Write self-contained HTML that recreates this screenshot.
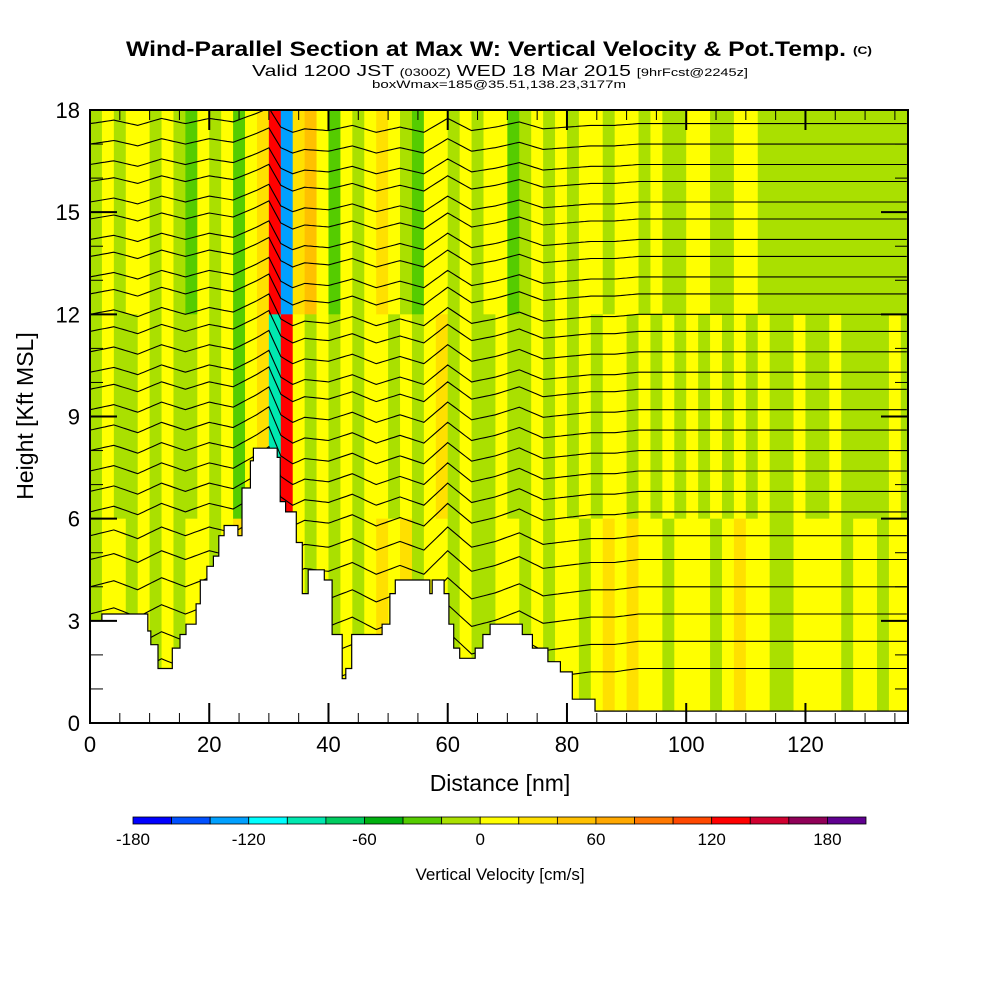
<!DOCTYPE html>
<html><head><meta charset="utf-8"><style>
body{margin:0;background:#fff;}
svg{display:block;font-family:"Liberation Sans",sans-serif;}
</style></head><body>
<svg id="chart" width="1000" height="1000" viewBox="0 0 1000 1000">
<text x="126" y="56" font-size="21" font-weight="bold" textLength="720" lengthAdjust="spacingAndGlyphs">Wind-Parallel Section at Max W: Vertical Velocity &amp; Pot.Temp.</text>
<text x="853" y="54" font-size="11" font-weight="bold" textLength="19" lengthAdjust="spacingAndGlyphs">(C)</text>
<text x="252" y="76" font-size="16" textLength="496" lengthAdjust="spacingAndGlyphs">Valid 1200 JST <tspan font-size="11">(0300Z)</tspan> WED 18 Mar 2015 <tspan font-size="11">[9hrFcst@2245z]</tspan></text>
<text x="372" y="88" font-size="11" textLength="254" lengthAdjust="spacingAndGlyphs">boxWmax=185@35.51,138.23,3177m</text>
<defs><clipPath id="plotclip"><rect x="90" y="110" width="818" height="613"/></clipPath></defs>
<g id="field" clip-path="url(#plotclip)"></g>
<g id="contours" clip-path="url(#plotclip)"></g>
<g id="terrain" clip-path="url(#plotclip)"></g>
<rect x="90" y="110" width="818" height="613" fill="none" stroke="#000" stroke-width="2"/>
<g id="axes"></g>
<text x="500" y="791" font-size="23" text-anchor="middle">Distance [nm]</text>
<text transform="translate(33,416) rotate(-90)" font-size="23" text-anchor="middle">Height [Kft MSL]</text>
<g id="colorbar"></g>
<text x="500" y="880" font-size="17" text-anchor="middle">Vertical Velocity [cm/s]</text>
</svg>
<script>
// data
const cbLevels=[-180,-160,-140,-120,-100,-80,-60,-40,-20,0,20,40,60,80,100,120,140,160,180,200];
const cbColors=["#0000ff","#0050ff","#00a0ff","#00ffff","#00e8b0","#00cc60","#00b010","#55cc00","#aae000","#ffff00","#ffe000","#ffc000","#ffa800","#ff7800","#ff4800","#ff0000","#d00030","#900058","#600090"];
const cbTicks=[-180,-120,-60,0,60,120,180];
const wDist=[0,2,4,6,8,10,12,14,16,18,20,22,24,26,28,30,32,34,36,38,40,42,44,46,48,50,52,54,56,58,60,62,64,66,68,70,72,74,76,78,80,82,84,86,88,90,92,94,96,98,100,102,104,106,108,110,112,114,116,118,120,122,124,126,128,130,132,134,136,138];
const wUpper=[-10,10,-10,10,10,-10,10,-10,-30,10,-10,10,-30,10,30,130,-130,30,50,10,-30,10,-10,10,30,10,-10,-30,10,10,-10,10,-10,10,10,-30,-10,10,-10,10,-10,10,10,-10,10,10,-10,10,-10,-10,10,10,-10,-10,10,10,-10,-10,-10,-10,-10,-10,-10,-10,-10,-10,-10,-10,-10,-10];
const wMid=[-10,10,-10,-10,10,-10,10,-10,-10,10,-10,10,-30,10,30,-90,130,10,-10,10,-10,10,-10,10,10,-10,10,-10,10,30,-10,10,-10,-10,10,-10,-10,10,-10,10,-10,10,-10,10,10,-10,10,-10,10,-10,10,-10,10,-10,10,-10,10,-10,-10,10,-10,-10,10,-10,-10,-10,-10,10,-10,-10];
const wLower=[-10,10,10,-10,10,-10,10,-10,10,10,-10,10,30,10,30,-50,50,10,-10,10,-10,10,-10,10,30,10,30,-10,10,10,-10,10,-10,-10,10,10,-10,10,-10,10,10,-10,10,30,10,30,10,10,-10,10,10,10,-10,10,30,10,10,-10,-10,10,10,10,10,-10,10,10,-10,10,10,10];
const terrDist=[0,2,8.4,9.7,10.2,11.4,13.8,15.1,16.1,17.8,18.5,19.6,20.7,21.6,22.5,24.8,25.5,26.9,27.4,30.9,31.4,31.9,32.8,34.6,35.6,36.6,38.6,39.3,40.6,42.3,42.9,43.9,45,49,50.3,51.2,52.2,52.8,57,57.4,59.4,60.2,61,62,64.6,65.9,67.1,68.6,72.5,74.2,76.8,78.9,80.9,84.7,137.2];
const terrH=[3.0,3.2,3.2,2.7,2.3,1.6,2.2,2.6,2.9,3.5,4.2,4.6,4.9,5.5,5.8,5.5,6.9,7.7,8.07,8.07,7.8,6.5,6.2,5.3,3.8,4.5,4.5,4.2,2.6,1.3,1.6,2.6,2.6,2.9,3.8,4.2,4.2,4.2,3.8,4.2,3.8,2.9,2.2,1.9,2.2,2.6,2.9,2.9,2.6,2.2,1.8,1.5,0.7,0.35,0.35];
const thetaBase=[17.6,17.0,16.4,15.9,15.3,14.8,14.2,13.7,13.1,12.6,12.0,11.5,10.9,10.3,9.8,9.2,8.6,8.0,7.4,6.8,6.2,5.5,4.8,4.0,3.2,2.4,1.6];
const dispDist=[0,4,8,12,16,20,24,28,30,32,34,36,40,44,48,52,56,60,64,68,72,76,80,84,88,92,96,100,137];
const dispVal=[0,0.1,-0.05,0.15,0,0.15,0.05,0.3,0.45,-0.1,-0.25,-0.15,-0.2,-0.05,-0.25,-0.1,-0.25,0.15,-0.2,-0.1,0.05,-0.15,-0.1,-0.05,-0.05,0,0,0,0];

const NS="http://www.w3.org/2000/svg";
const X0=90,X1=908,Y0=723,Y1=110,XMAX=137.2,YMAX=18;
function sx(d){return X0+(X1-X0)*d/XMAX;}
function sy(h){return Y0-(Y0-Y1)*h/YMAX;}
function colorFor(w){for(let i=0;i<cbColors.length;i++){if(w<cbLevels[i+1])return cbColors[i];}return cbColors[cbColors.length-1];}
function mk(tag,attrs,parent){const e=document.createElementNS(NS,tag);for(const k in attrs)e.setAttribute(k,attrs[k]);parent.appendChild(e);return e;}
function interp(xs,ys,x){if(x<=xs[0])return ys[0];for(let i=1;i<xs.length;i++){if(x<=xs[i]){const t=(x-xs[i-1])/(xs[i]-xs[i-1]);return ys[i-1]+t*(ys[i]-ys[i-1]);}}return ys[ys.length-1];}

const field=document.getElementById('field');
const rows=[[wUpper,12,18],[wMid,6,12],[wLower,0,6]];
for(let i=0;i<wDist.length;i++){
  const xa=sx(wDist[i]),xb=sx(wDist[i]+2)+0.5;
  rows.forEach(r=>{
    const c=mk('rect',{x:xa,y:sy(r[2]),width:xb-xa,height:sy(r[1])-sy(r[2])+0.5,fill:colorFor(r[0][i])},field);
    
    
  });
}
const cont=document.getElementById('contours');
thetaBase.forEach(b=>{
  let d='';
  for(let x=0;x<=XMAX;x+=0.5){
    const amp=1+(18-b)/18;
    const h=b+interp(dispDist,dispVal,x)*amp;
    d+=(x===0?'M':'L')+sx(x).toFixed(1)+','+sy(h).toFixed(1);
  }
  const p=mk('path',{d:d,fill:'none',stroke:'#000','stroke-width':1.1},cont);
  
  
});
const ter=document.getElementById('terrain');
let td='M'+sx(0)+','+sy(0);
for(let i=0;i<terrDist.length;i++){
  const xs=sx(terrDist[i]);
  if(i>0) td+='L'+xs.toFixed(1)+','+sy(terrH[i-1]).toFixed(1);
  td+='L'+xs.toFixed(1)+','+sy(terrH[i]).toFixed(1);
}
td+='L'+sx(XMAX)+','+sy(0)+'Z';
const tp=mk('path',{d:td,fill:'#fff',stroke:'#000','stroke-width':1.2},ter);



const axes=document.getElementById('axes');
for(let d=0;d<=135;d+=5){
  const major=d%20===0, len=major?20:10;
  mk('line',{x1:sx(d),x2:sx(d),y1:Y0,y2:Y0-len,stroke:'#000','stroke-width':major?2:1},axes);
  mk('line',{x1:sx(d),x2:sx(d),y1:Y1,y2:Y1+len,stroke:'#000','stroke-width':major?2:1},axes);
  if(major){const t=mk('text',{x:sx(d),y:752,'font-size':22,'text-anchor':'middle'},axes);t.textContent=d;
    
    }
}
for(let h=0;h<=18;h++){
  const major=h%3===0,len=major?27:13;
  mk('line',{x1:X0,x2:X0+len,y1:sy(h),y2:sy(h),stroke:'#000','stroke-width':major?2:1},axes);
  mk('line',{x1:X1,x2:X1-len,y1:sy(h),y2:sy(h),stroke:'#000','stroke-width':major?2:1},axes);
  if(major){const t=mk('text',{x:80,y:sy(h)+8,'font-size':22,'text-anchor':'end'},axes);t.textContent=h;
    
    }
}
const cb=document.getElementById('colorbar');
const CB0=133,CB1=866,cw=(CB1-CB0)/cbColors.length;
cbColors.forEach((c,i)=>{
  const r=mk('rect',{x:CB0+i*cw,y:817,width:cw,height:7,fill:c,stroke:'#000','stroke-width':0.8},cb);
  
  
});
cbTicks.forEach(v=>{
  const t=mk('text',{x:CB0+(v+180)/20*cw,y:845,'font-size':17,'text-anchor':'middle'},cb);t.textContent=v;
  
  
});
</script>
</body></html>
